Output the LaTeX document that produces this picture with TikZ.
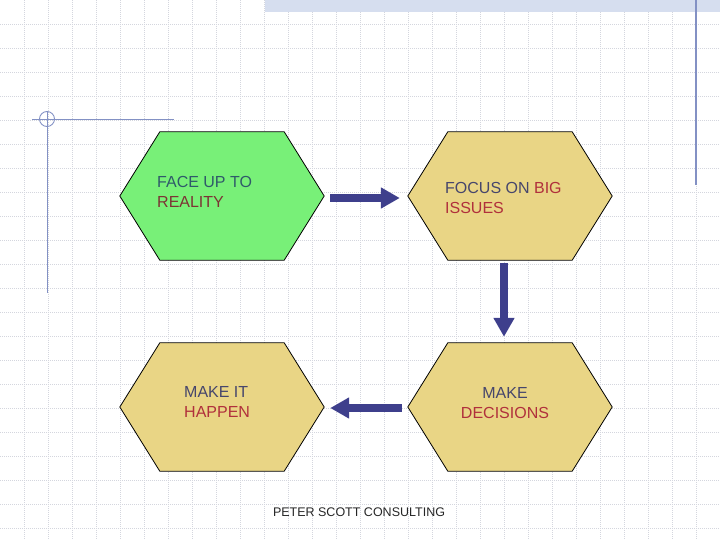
\documentclass[tikz,border=0pt]{standalone}
\usepackage{fontspec}
\setmainfont{Liberation Sans}
\usepackage{xcolor}
\usepackage{tikz}
\usetikzlibrary{arrows.meta}

\definecolor{gridgray}{HTML}{D4D6DE}
\definecolor{bandblue}{HTML}{D6DEEF}
\definecolor{rulerblue}{HTML}{8391C4}
\definecolor{facegreen}{HTML}{78F078}
\definecolor{stepgold}{HTML}{E9D585}
\definecolor{flowblue}{HTML}{3E3F8C}
\definecolor{slateink}{HTML}{46466C}
\definecolor{tealink}{HTML}{2F5A6A}
\definecolor{brownink}{HTML}{7C3434}
\definecolor{redink}{HTML}{B0303C}

\tikzset{
  gridline/.style={gridgray, line width=0.6pt, dash pattern=on 1pt off 1pt},
  hexbox/.style={minimum width=204pt, minimum height=128pt, inner sep=0pt},
  hexline/.style={draw=black, line width=0.8pt},
  steptext/.style={inner sep=0pt, font=\fontsize{16}{20}\selectfont},
  flow/.style={flowblue, line width=8pt, -{Triangle[length=19pt,width=20pt]}}
}

\begin{document}
\begin{tikzpicture}[x=1pt, y=-1pt]
  \useasboundingbox (0,0) rectangle (720,540);

  % Background grid
  \foreach \k in {24,48,...,696}
    \draw[gridline] (\k,0) -- (\k,540);
  \foreach \k in {24,48,...,528}
    \draw[gridline] (0,\k) -- (720,\k);

  % Slide decoration
  \fill[bandblue] (265,0) rectangle (720,12);
  \draw[rulerblue, line width=1.5pt] (696,0) -- (696,185);
  \draw[rulerblue, line width=0.9pt] (32,119) -- (174,119);
  \draw[rulerblue, line width=0.9pt] (47,111) -- (47,293);
  \draw[rulerblue, line width=0.9pt] (47,119) circle (7.5);

  % Hexagons
  \foreach \n/\x/\y/\c in {face/222/196/facegreen, focus/510/196/stepgold,
                           act/222/407/stepgold, decide/510/407/stepgold}{
    \node[hexbox] (\n) at (\x,\y) {};
    \filldraw[hexline, fill=\c] (\n.west) -- ([xshift=40pt]\n.north west)
      -- ([xshift=-40pt]\n.north east) -- (\n.east)
      -- ([xshift=-40pt]\n.south east) -- ([xshift=40pt]\n.south west) -- cycle;
  }

  % Labels
  \node[steptext, anchor=west, align=left] (faceText) at ([shift={(-65,-4)}]face)
    {\textcolor{tealink}{FACE UP TO}\\\textcolor{brownink}{REALITY}};
  \node[steptext, anchor=west, align=left] (focusText) at ([shift={(-65,2)}]focus)
    {\textcolor{slateink}{FOCUS ON} \textcolor{redink}{BIG}\\\textcolor{redink}{ISSUES}};
  \node[steptext, anchor=west, align=left] (actText) at ([shift={(-38,-5)}]act)
    {\textcolor{slateink}{MAKE IT}\\\textcolor{redink}{HAPPEN}};
  \node[steptext, align=center] (decideText) at ([shift={(-5,-3.5)}]decide)
    {\textcolor{slateink}{MAKE}\\\textcolor{redink}{DECISIONS}};

  % Arrows
  \draw[flow] ([shift={(6,2)}]face.east) -- ([shift={(-8,2)}]focus.west);
  \draw[flow] ([shift={(-6,3)}]focus.south) -- ([shift={(-6,-6)}]decide.north);
  \draw[flow] ([shift={(-6,1)}]decide.west) -- ([shift={(6,1)}]act.east);

  % Footer
  \node[font=\fontsize{12.5}{14}\selectfont, text=black!85] (footer) at (359,512)
    {PETER SCOTT CONSULTING};
\end{tikzpicture}
\end{document}
